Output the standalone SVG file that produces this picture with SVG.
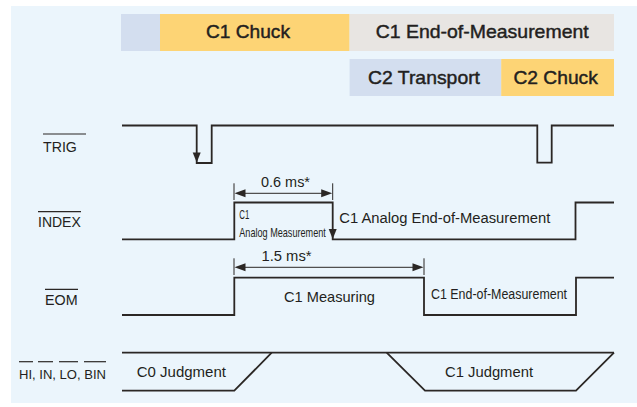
<svg xmlns="http://www.w3.org/2000/svg" width="637" height="407" viewBox="0 0 637 407">
<style>
.t{font-family:"Liberation Sans",Arial,sans-serif;fill:#231f20}
.bar{font-family:"Liberation Sans",Arial,sans-serif;font-size:19px;fill:#231f20;stroke:#231f20;stroke-width:0.45}
.w{fill:none;stroke:#2b2725;stroke-width:1.8;stroke-linejoin:miter}
.ol{stroke:#2b2725;stroke-width:1.2}
.tick{stroke:#2b2725;stroke-width:1}
.ah{fill:#2b2725}
</style>
<rect x="11" y="6" width="626" height="397" fill="#ebf5fc"/>
<g id="bars">
<rect x="121" y="14" width="39" height="37" fill="#d3deef"/>
<rect x="160" y="14" width="189.6" height="37" fill="#fdd475"/>
<rect x="349.6" y="14" width="264.4" height="37" fill="#e8e5e2"/>
<rect x="349.6" y="59" width="151.6" height="37" fill="#d3deef"/>
<rect x="501.2" y="59" width="112.8" height="37" fill="#fdd475"/>
<text class="bar" x="206" y="38.3" textLength="84" lengthAdjust="spacingAndGlyphs">C1 Chuck</text>
<text class="bar" x="375.7" y="38.3" textLength="213" lengthAdjust="spacingAndGlyphs">C1 End-of-Measurement</text>
<text class="bar" x="368" y="83.5" textLength="112" lengthAdjust="spacingAndGlyphs">C2 Transport</text>
<text class="bar" x="513.4" y="83.5" textLength="84.4" lengthAdjust="spacingAndGlyphs">C2 Chuck</text>
</g>
<g id="labels">
<g id="lbl-trig"><text class="t" x="43" y="151.7" font-size="14.2">TRIG</text><line class="ol" x1="43" y1="134" x2="86" y2="134"/></g>
<g id="lbl-index"><text class="t" x="38" y="226.7" font-size="14">INDEX</text><line class="ol" x1="38" y1="211.7" x2="81" y2="211.7"/></g>
<g id="lbl-eom"><text class="t" x="45" y="305" font-size="14.3">EOM</text><line class="ol" x1="45" y1="289.3" x2="78" y2="289.3"/></g>
<g id="lbl-judge"><text class="t" x="19" y="379.3" font-size="13" textLength="87" lengthAdjust="spacingAndGlyphs">HI, IN, LO, BIN</text>
<line class="ol" x1="19" y1="361.7" x2="33" y2="361.7"/><line class="ol" x1="38" y1="361.7" x2="53" y2="361.7"/><line class="ol" x1="59" y1="361.7" x2="78" y2="361.7"/><line class="ol" x1="84" y1="361.7" x2="106" y2="361.7"/></g>
</g>
<g id="connectors">
<g id="trig"><path class="w" d="M122,125.5 H196.7 V163 H211.7 V125.5 H537.3 V162.7 H551.7 V125.5 H614"/>
<polygon class="ah" points="192.7,152.5 200.7,152.5 196.7,162.5"/></g>
<g id="index"><path class="w" d="M122,239.3 H234.3 V202.5 H332.7 V239.3 H575.5 V202.5 H614"/>
<polygon class="ah" points="328.7,229 336.7,229 332.7,239"/></g>
<g id="eom"><path class="w" d="M122,315 H234.3 V277.7 H424 V315 H576 V277.7 H614"/></g>
<g id="judge"><path class="w" d="M122,352.7 H614"/><path class="w" d="M122,390.7 H234.3 L271.7,352.7"/><path class="w" d="M386.7,352.7 L425,390.7 H576 L614,352.7"/></g>
<g id="dim06"><line class="tick" x1="234" y1="183.3" x2="234" y2="200"/><line class="tick" x1="332.7" y1="183.3" x2="332.7" y2="200"/>
<line class="tick" x1="240" y1="193.3" x2="327" y2="193.3" stroke-width="1.4"/>
<polygon class="ah" points="234.5,193.3 245.5,189.3 245.5,197.3"/><polygon class="ah" points="332.2,193.3 321.2,189.3 321.2,197.3"/></g>
<g id="dim15"><line class="tick" x1="234" y1="258.3" x2="234" y2="275"/><line class="tick" x1="424" y1="258.3" x2="424" y2="275"/>
<line class="tick" x1="240" y1="267.3" x2="418" y2="267.3" stroke-width="1.4"/>
<polygon class="ah" points="234.5,267.3 245.5,263.3 245.5,271.3"/><polygon class="ah" points="423.5,267.3 412.5,263.3 412.5,271.3"/></g>
</g>
<g id="texts">
<text class="t" x="261" y="186.7" font-size="14" textLength="49" lengthAdjust="spacingAndGlyphs">0.6 ms*</text>
<text class="t" x="261.5" y="260.7" font-size="14" textLength="50" lengthAdjust="spacingAndGlyphs">1.5 ms*</text>
<text class="t" x="239.3" y="219.3" font-size="13" textLength="10" lengthAdjust="spacingAndGlyphs">C1</text>
<text class="t" x="239.3" y="236.7" font-size="13" textLength="86.5" lengthAdjust="spacingAndGlyphs">Analog Measurement</text>
<text class="t" x="339.3" y="223.3" font-size="14.7" textLength="211" lengthAdjust="spacingAndGlyphs">C1 Analog End-of-Measurement</text>
<text class="t" x="284" y="301.5" font-size="14.5" textLength="91" lengthAdjust="spacingAndGlyphs">C1 Measuring</text>
<text class="t" x="431" y="299.3" font-size="14" textLength="136" lengthAdjust="spacingAndGlyphs">C1 End-of-Measurement</text>
<text class="t" x="136.7" y="377.3" font-size="15" textLength="89.3" lengthAdjust="spacingAndGlyphs">C0 Judgment</text>
<text class="t" x="445" y="377.3" font-size="15" textLength="88" lengthAdjust="spacingAndGlyphs">C1 Judgment</text>
</g>
</svg>
